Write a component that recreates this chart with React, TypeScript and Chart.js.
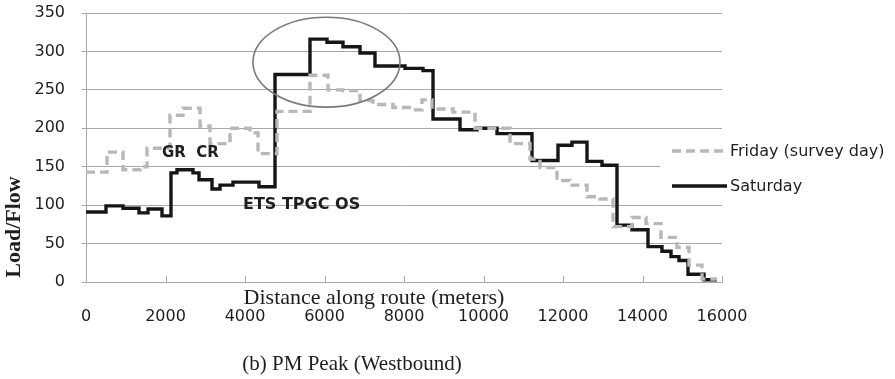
import { useEffect, useRef } from 'react';
import { Chart, registerables } from 'chart.js';

Chart.register(...registerables);

// ---- Data ----
// Saturday: step segments start positions (m) and loads
const saturdayStarts = [0, 503, 931, 1333, 1560, 1912, 2138, 2289, 2692, 2843, 3170, 3371, 3698, 4352, 4755, 5635, 6063, 6465, 6893, 7270, 8025, 8478, 8730, 9409, 9836, 10340, 11220, 11874, 12226, 12604, 12981, 13358, 13736, 14138, 14490, 14717, 14918, 15145, 15547];
const saturdayValues = [91, 99, 96, 90, 95, 86, 142, 146, 142, 133, 121, 126, 130, 124, 270, 316, 312, 306, 298, 281, 278, 275, 212, 198, 200, 193, 158, 178, 182, 157, 152, 74, 68, 46, 40, 33, 28, 10, 3];
const saturdayEnd = 15874;

// Friday (survey day)
const fridayStarts = [0, 528, 931, 1358, 1535, 2113, 2440, 2868, 3119, 3623, 4126, 4327, 4805, 5635, 6088, 6465, 6893, 7220, 7723, 8226, 8453, 8704, 9233, 9786, 10667, 11170, 11421, 11849, 12176, 12604, 12931, 13258, 13736, 14088, 14465, 14868, 15170, 15497];
const fridayValues = [143, 169, 146, 150, 174, 217, 226, 203, 180, 200, 194, 167, 222, 269, 250, 249, 236, 231, 227, 224, 237, 225, 221, 200, 180, 160, 149, 132, 126, 111, 108, 72, 84, 76, 58, 45, 22, 4];
const fridayEnd = 15874;

const seriesNames = ['Friday (survey day)', 'Saturday'];
const yTickValues = [0, 50, 100, 150, 200, 250, 300, 350];
const xTickValues = [0, 2000, 4000, 6000, 8000, 10000, 12000, 14000, 16000];

const xTitle = 'Distance along route (meters)';
const yTitle = 'Load/Flow';
const caption = '(b) PM Peak (Westbound)';

// annotation texts placed in data space (meters, load)
const annotationTexts = ['GR  CR', 'ETS TPGC OS'];
const annotationX = [1912, 3950];
const annotationY = [168, 101];

// highlighted region (ellipse) in data space
const highlightCenter = [6050, 286];
const highlightRadius = [1849, 58.5];

const FRIDAY_COLOR = '#b8b8b8';
const SAT_COLOR = '#161616';
const GRID_COLOR = '#a8a8a8';
const TEXT_COLOR = '#1e1e1e';

function toSteps(starts: number[], values: number[], end: number) {
  const pts = starts.map((s, i) => ({ x: s, y: values[i] }));
  pts.push({ x: end, y: values[values.length - 1] });
  return pts;
}

const decorPlugin = {
  id: 'decor',
  afterDraw(chart: any) {
    const ctx = chart.ctx as CanvasRenderingContext2D;
    const xs = chart.scales.x;
    const ys = chart.scales.y;
    const area = chart.chartArea;
    ctx.save();

    // inside tick marks on x axis
    ctx.strokeStyle = GRID_COLOR;
    ctx.lineWidth = 1;
    xTickValues.forEach((v) => {
      if (v === 0) return;
      const px = Math.round(xs.getPixelForValue(v)) + 0.5;
      ctx.beginPath();
      ctx.moveTo(px, area.bottom);
      ctx.lineTo(px, area.bottom - 6);
      ctx.stroke();
    });

    // ellipse highlight
    const cx = xs.getPixelForValue(highlightCenter[0]);
    const cy = ys.getPixelForValue(highlightCenter[1]);
    const rx = Math.abs(xs.getPixelForValue(highlightCenter[0] + highlightRadius[0]) - cx);
    const ry = Math.abs(ys.getPixelForValue(highlightCenter[1] + highlightRadius[1]) - cy);
    ctx.strokeStyle = '#7a7a7a';
    ctx.lineWidth = 1.6;
    ctx.beginPath();
    ctx.ellipse(cx, cy, rx, ry, 0, 0, Math.PI * 2);
    ctx.stroke();

    // annotation labels
    ctx.fillStyle = TEXT_COLOR;
    ctx.textBaseline = 'middle';
    ctx.textAlign = 'left';
    annotationTexts.forEach((t, i) => {
      ctx.font = i === 0 ? 'bold 15px "DejaVu Sans"' : 'bold 16px "DejaVu Sans"';
      ctx.fillText(t, xs.getPixelForValue(annotationX[i]), ys.getPixelForValue(annotationY[i]));
    });

    // legend with white box
    ctx.fillStyle = '#ffffff';
    ctx.fillRect(660, 136, 235, 64);
    const legendY = [151, 186];
    chart.data.datasets.forEach((ds: any, i: number) => {
      ctx.strokeStyle = ds.borderColor;
      ctx.lineWidth = ds.borderWidth;
      ctx.setLineDash(ds.borderDash || []);
      ctx.beginPath();
      ctx.moveTo(672, legendY[i]);
      ctx.lineTo(727, legendY[i]);
      ctx.stroke();
      ctx.setLineDash([]);
      ctx.fillStyle = TEXT_COLOR;
      ctx.font = '16px "DejaVu Sans"';
      ctx.textBaseline = 'middle';
      ctx.fillText(seriesNames[i], 730, legendY[i] + 1);
    });

    // titles
    ctx.fillStyle = TEXT_COLOR;
    ctx.textAlign = 'center';
    ctx.textBaseline = 'middle';
    ctx.font = '22px "Liberation Serif"';
    ctx.fillText(xTitle, 374, 298);
    ctx.font = '21px "Liberation Serif"';
    ctx.fillText(caption, 352, 364);
    ctx.save();
    ctx.translate(14, 227);
    ctx.rotate(-Math.PI / 2);
    ctx.font = 'bold 22px "Liberation Serif"';
    ctx.fillText(yTitle, 0, 0);
    ctx.restore();

    ctx.restore();
  },
};

export default function App() {
  const canvasRef = useRef<HTMLCanvasElement | null>(null);

  useEffect(() => {
    document.body.style.margin = '0';
    const canvas = canvasRef.current;
    if (!canvas) return;
    const chart = new Chart(canvas, {
      type: 'line',
      data: {
        datasets: [
          {
            label: seriesNames[0],
            data: toSteps(fridayStarts, fridayValues, fridayEnd),
            stepped: 'before',
            borderColor: FRIDAY_COLOR,
            borderWidth: 3.4,
            borderDash: [9, 5],
            pointRadius: 0,
            fill: false,
          },
          {
            label: seriesNames[1],
            data: toSteps(saturdayStarts, saturdayValues, saturdayEnd),
            stepped: 'before',
            borderColor: SAT_COLOR,
            borderWidth: 3.4,
            pointRadius: 0,
            fill: false,
          },
        ],
      },
      options: {
        animation: false,
        responsive: true,
        maintainAspectRatio: false,
        layout: { padding: { top: 13, right: 173, left: 0, bottom: 0 } },
        plugins: {
          legend: { display: false },
          tooltip: { enabled: false },
        },
        scales: {
          x: {
            type: 'linear',
            min: 0,
            max: 16000,
            afterBuildTicks: (s: any) => {
              s.ticks = xTickValues.map((v) => ({ value: v }));
            },
            afterFit: (s: any) => {
              s.height = 97;
              s.paddingLeft = 0;
              s.paddingRight = 0;
            },
            grid: { display: false, drawTicks: false },
            border: { display: true, color: GRID_COLOR, width: 1 },
            ticks: {
              padding: 25,
              maxRotation: 0,
              autoSkip: false,
              color: TEXT_COLOR,
              font: { family: '"DejaVu Sans"', size: 16 },
              callback: (v: any) => String(v),
            },
          },
          y: {
            min: 0,
            max: 350,
            afterBuildTicks: (s: any) => {
              s.ticks = yTickValues.map((v) => ({ value: v }));
            },
            afterFit: (s: any) => {
              s.width = 86;
              s.paddingTop = 0;
              s.paddingBottom = 0;
            },
            grid: { color: GRID_COLOR, lineWidth: 1, drawTicks: true, tickLength: 4 },
            border: { display: true, color: GRID_COLOR, width: 1 },
            ticks: {
              padding: 17,
              color: TEXT_COLOR,
              font: { family: '"DejaVu Sans"', size: 16 },
              callback: (v: any) => String(v),
            },
          },
        },
      },
      plugins: [decorPlugin],
    });
    return () => chart.destroy();
  }, []);

  return (
    <div style={{ width: 895, height: 379, position: 'relative' }}>
      <canvas ref={canvasRef} />
    </div>
  );
}
